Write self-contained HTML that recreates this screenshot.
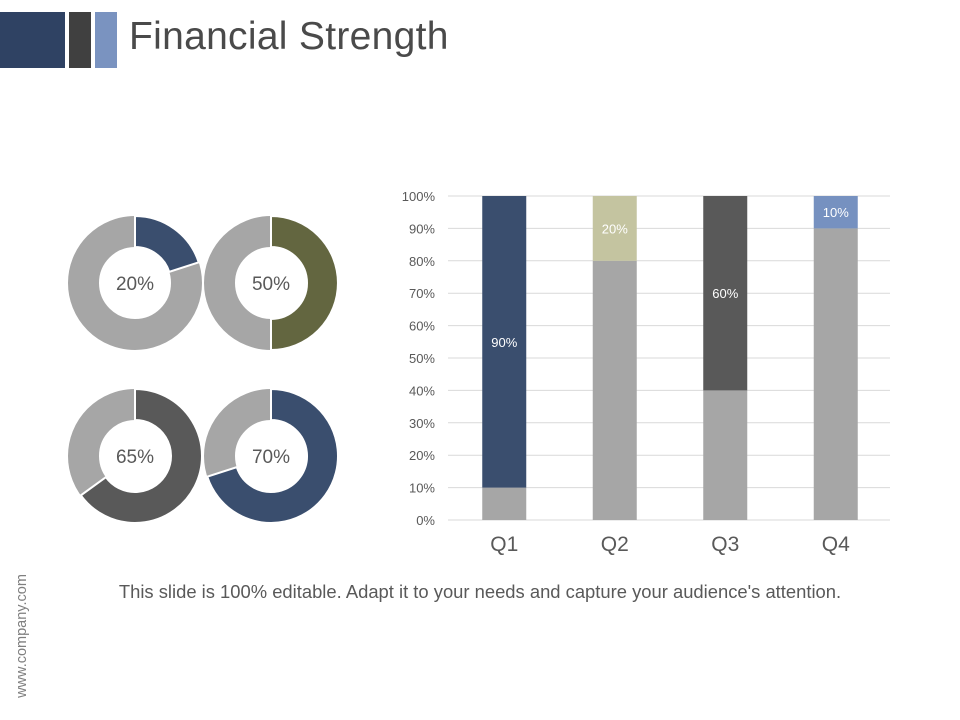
<!DOCTYPE html>
<html><head><meta charset="utf-8"><style>
body{margin:0;width:960px;height:720px;background:#fff;font-family:"Liberation Sans",sans-serif;overflow:hidden;position:relative}
.abs{position:absolute}
</style></head><body>
<div class="abs" style="left:0;top:12px;width:65px;height:56px;background:#2f4263"></div>
<div class="abs" style="left:69px;top:12px;width:22px;height:56px;background:#404040"></div>
<div class="abs" style="left:95px;top:12px;width:22px;height:56px;background:#7a93c0"></div>
<div class="abs" style="left:129px;top:15px;font-size:39px;color:#4a4a4a;letter-spacing:0.3px">Financial Strength</div>
<div class="abs" style="left:0;width:960px;top:581px;text-align:center;font-size:18.4px;color:#595959">This slide is 100% editable. Adapt it to your needs and capture your audience's attention.</div>
<div class="abs" style="left:-48px;top:628px;width:140px;transform:rotate(-90deg);font-size:14.5px;color:#7f7f7f;text-align:center">www.company.com</div>
<svg id="chart" class="abs" style="left:0;top:0" width="960" height="720"></svg>
<script>
const donutValues=[20,50,65,70];
const donutLabels=["20%","50%","65%","70%"];
const donutColors=["#3a4e6e","#636640","#595959","#3a4e6e"];
const categories=["Q1","Q2","Q3","Q4"];
const bottomValues=[10,80,40,90];
const topValues=[90,20,60,10];
const topLabels=["90%","20%","60%","10%"];
const yTicks=[0,10,20,30,40,50,60,70,80,90,100];
const topColors=["#3a4e6e","#c4c4a0","#595959","#7691c0"];
const NS="http://www.w3.org/2000/svg";
const svg=document.getElementById('chart');
function mk(t,a,p){const e=document.createElementNS(NS,t);for(const k in a)e.setAttribute(k,a[k]);(p||svg).appendChild(e);return e;}
const centers=[[135,283],[271,283],[135,456],[271,456]];
const R=67,r=36;
donutValues.forEach((v,i)=>{
 const [cx,cy]=centers[i];
 const g=mk('g',{});
 
 
 mk('circle',{cx:cx,cy:cy,r:(R+r)/2,fill:'none',stroke:'#a6a6a6','stroke-width':R-r},g);
 const a=v/100*2*Math.PI;
 const x1=cx,y1=cy-R,x2=cx+R*Math.sin(a),y2=cy-R*Math.cos(a);
 const xi2=cx+r*Math.sin(a),yi2=cy-r*Math.cos(a);
 const lg=v>50?1:0;
 const p=mk('path',{d:`M${x1} ${y1} A${R} ${R} 0 ${lg} 1 ${x2} ${y2} L${xi2} ${yi2} A${r} ${r} 0 ${lg} 0 ${cx} ${cy-r} Z`,fill:donutColors[i],stroke:'#fff','stroke-width':2},g);
 
 
 mk('line',{x1:cx,y1:cy-R,x2:cx,y2:cy-r,stroke:'#fff','stroke-width':2},g);
 const t=mk('text',{x:cx,y:cy+7,'text-anchor':'middle','font-size':19,fill:'#595959'},g);
 t.textContent=donutLabels[i];
 
 
});
const x0=448,x1=890,yb=520,yt=196;
const y=v=>yb-(v/100)*(yb-yt);
const bw=(x1-x0)/categories.length;
const xc=i=>x0+bw*(i+0.5)+1;
yTicks.forEach(v=>{
 const l=mk('line',{x1:x0,x2:x1,y1:y(v),y2:y(v),stroke:'#d9d9d9','stroke-width':1});
 
 
 const t=mk('text',{x:435,y:y(v)+5,'text-anchor':'end','font-size':13,fill:'#595959'});
 t.textContent=v+'%';
 
 
});
categories.forEach((c,i)=>{
 const b=mk('rect',{x:xc(i)-22,y:y(bottomValues[i]),width:44,height:y(0)-y(bottomValues[i]),fill:'#a6a6a6'});
 
 
 const s=bottomValues[i]+topValues[i];
 const tp=mk('rect',{x:xc(i)-22,y:y(s),width:44,height:y(bottomValues[i])-y(s),fill:topColors[i]});
 
 
 const lt=mk('text',{x:xc(i),y:(y(s)+y(bottomValues[i]))/2+5,'text-anchor':'middle','font-size':13,fill:'#fff'});
 lt.textContent=topLabels[i];
 
 
 const ct=mk('text',{x:xc(i),y:551,'text-anchor':'middle','font-size':21,fill:'#595959'});
 ct.textContent=c;
 
 
});
</script>
</body></html>
